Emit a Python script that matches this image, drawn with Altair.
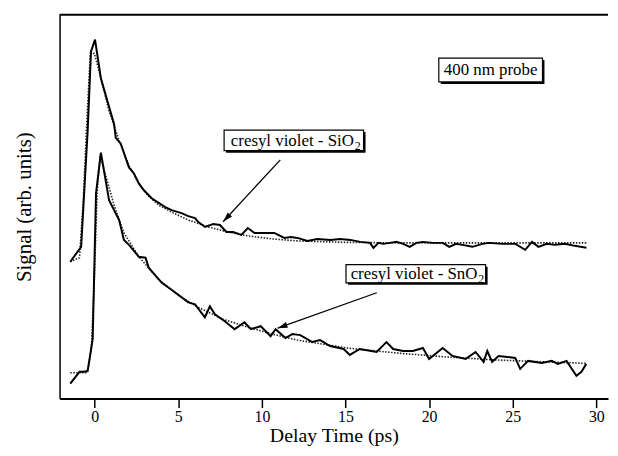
import altair as alt
import pandas as pd

# ---- data (t in ps, signal in arbitrary units) ----
si_t = [-1.46, -0.81, -0.42, -0.22, 0.02, 0.37, 0.76, 1.16, 1.26, 1.56, 2.05, 2.35, 2.64, 2.94,
        3.41, 4.22, 4.60, 5.19, 5.60, 6.00, 6.20, 6.60, 7.09, 7.49, 7.88, 8.28, 8.77, 9.16, 9.56,
        10.15, 10.74, 11.34, 11.73, 12.13, 12.72, 13.31, 14.10, 14.69, 15.29, 15.88, 16.47, 16.67,
        16.97, 17.26, 17.66, 18.05, 18.45, 18.84, 19.24, 19.63, 20.22, 20.82, 21.21, 21.61, 22.00,
        22.59, 23.19, 23.58, 24.37, 25.16, 25.75, 26.15, 26.54, 27.04, 27.53, 28.12, 28.71, 29.41]
si_s = [1.38, 1.53, 2.70, 3.50, 3.62, 3.23, 3.00, 2.77, 2.63, 2.57, 2.33, 2.27, 2.17, 2.10,
        2.02, 1.93, 1.90, 1.87, 1.84, 1.82, 1.78, 1.73, 1.76, 1.75, 1.68, 1.68, 1.65, 1.72, 1.67,
        1.67, 1.67, 1.62, 1.63, 1.62, 1.59, 1.61, 1.60, 1.61, 1.60, 1.58, 1.57, 1.52,
        1.57, 1.56, 1.57, 1.58, 1.56, 1.53, 1.57, 1.58, 1.57, 1.57, 1.53, 1.56, 1.55,
        1.53, 1.56, 1.57, 1.56, 1.56, 1.50, 1.58, 1.53, 1.56, 1.55, 1.56, 1.54, 1.52]

si_fit_t = [-1.46, -0.91, -0.68, -0.44, -0.26, -0.02, 0.27, 0.86, 1.46, 2.05, 2.64, 3.23, 3.83,
            4.72, 5.60, 6.79, 7.97, 9.16, 10.64, 12.11, 15.08, 18.04, 23.97, 29.42]
si_fit_s = [1.38, 1.42, 2.00, 2.90, 3.48, 3.48, 3.30, 2.90, 2.60, 2.35, 2.17, 2.04, 1.95,
            1.87, 1.80, 1.73, 1.68, 1.64, 1.61, 1.59, 1.575, 1.57, 1.57, 1.57]

sn_t = [-1.46, -0.91, -0.62, -0.42, -0.12, 0.08, 0.37, 0.86, 1.46, 1.75, 2.05, 2.64, 3.04, 3.23,
        4.00, 4.82, 5.60, 6.00, 6.59, 6.89, 7.19, 7.78, 8.37, 8.96, 9.34, 9.93, 10.52, 10.82,
        11.41, 11.82, 12.30, 13.01, 13.48, 14.08, 14.89, 15.26, 15.85, 16.86, 17.45, 17.85,
        18.44, 19.03, 19.63, 20.00, 20.81, 21.40, 22.19, 22.78, 23.26, 23.48, 23.77, 24.15,
        25.15, 25.45, 25.92, 26.74, 27.33, 27.70, 28.22, 28.81, 29.11, 29.40]
sn_s = [0.15, 0.27, 0.27, 0.28, 0.60, 2.07, 2.48, 2.00, 1.80, 1.60, 1.55, 1.43, 1.42, 1.32,
        1.17, 1.07, 0.97, 0.95, 0.82, 0.93, 0.85, 0.78, 0.70, 0.77, 0.70, 0.73, 0.63, 0.70,
        0.61, 0.65, 0.64, 0.57, 0.59, 0.53, 0.50, 0.44, 0.50, 0.47, 0.57, 0.50,
        0.48, 0.48, 0.51, 0.40, 0.51, 0.43, 0.40, 0.47, 0.37, 0.48, 0.37, 0.43,
        0.41, 0.30, 0.38, 0.36, 0.38, 0.35, 0.38, 0.23, 0.27, 0.35]

sn_fit_t = [-1.46, -0.44, -0.20, -0.02, 0.15, 0.33, 0.57, 1.16, 1.75, 2.64, 3.83, 5.01, 6.20,
            7.68, 9.16, 10.64, 12.11, 15.08, 18.04, 21.00, 23.97, 26.93, 29.42]
sn_fit_s = [0.26, 0.26, 0.50, 1.20, 2.10, 2.45, 2.30, 1.95, 1.67, 1.43, 1.20, 1.04, 0.92,
            0.80, 0.72, 0.65, 0.59, 0.51, 0.46, 0.42, 0.39, 0.37, 0.355]

x_ticks = [0, 5, 10, 15, 20, 25, 30]
x_domain = [-2.1, 30.7]
y_domain = [0, 3.87]

# annotation boxes: t1, t2, s1, s2
box_t1 = [20.58, 7.74, 15.03]
box_t2 = [26.78, 16.08, 23.38]
box_s1 = [3.433, 2.707, 1.35]
box_s2 = [3.193, 2.50, 1.167]

label_text = ["400 nm probe", "cresyl violet - SiO", "cresyl violet - SnO"]
label_t = [23.68, 15.50, 22.89]
label_s = [3.31, 2.60, 1.26]
label_align = ["center", "right", "right"]
sub_t = [15.55, 22.94]
sub_s = [2.55, 1.21]

arrow_t1 = [11.10, 16.87]
arrow_s1 = [2.407, 1.067]
arrow_t2 = [7.68, 10.94]
arrow_s2 = [1.783, 0.71]
arrow_angle = [222.8, 250.4]

FONT = "Liberation Serif"


def df(t, s):
    return pd.DataFrame({"t": t, "s": s, "i": list(range(len(t)))})


xs = alt.Scale(domain=x_domain, nice=False, zero=False)
ys = alt.Scale(domain=y_domain, nice=False, zero=False)

AX = alt.Axis(
    values=x_ticks, tickSize=9, tickWidth=1.5, tickColor="black", domainColor="black",
    domainWidth=2, labelFont=FONT, labelFontSize=16, labelColor="black", labelPadding=1,
    title="Delay Time (ps)", titleFont=FONT, titleFontSize=20, titleFontWeight="normal",
    titleColor="black", titlePadding=1, grid=False)
AY = alt.Axis(
    ticks=False, labels=False, grid=False, domainColor="black", domainWidth=1.5,
    title="Signal (arb. units)", titleFont=FONT, titleFontSize=21, titleFontWeight="normal",
    titleColor="black", titlePadding=25)


def X(f):
    return alt.X(f, scale=xs, axis=AX, title="Delay Time (ps)")


def Y(f):
    return alt.Y(f, scale=ys, axis=AY, title="Signal (arb. units)")


fit_si = alt.Chart(df(si_fit_t, si_fit_s)).mark_line(
    color="#222", strokeWidth=1.6, strokeDash=[1.5, 1.5]).encode(x=X("t:Q"), y=Y("s:Q"), order="i:Q")
fit_sn = alt.Chart(df(sn_fit_t, sn_fit_s)).mark_line(
    color="#222", strokeWidth=1.6, strokeDash=[1.5, 1.5]).encode(x=X("t:Q"), y=Y("s:Q"), order="i:Q")
dat_si = alt.Chart(df(si_t, si_s)).mark_line(
    color="black", strokeWidth=2).encode(x=X("t:Q"), y=Y("s:Q"), order="i:Q")
dat_sn = alt.Chart(df(sn_t, sn_s)).mark_line(
    color="black", strokeWidth=2).encode(x=X("t:Q"), y=Y("s:Q"), order="i:Q")

top_border = alt.Chart(pd.DataFrame({"t": [x_domain[0]], "t2": [x_domain[1]], "s": [y_domain[1]]})).mark_rule(
    color="black", strokeWidth=2).encode(x=X("t:Q"), x2="t2:Q", y=Y("s:Q"))

boxes = pd.DataFrame({"t": box_t1, "t2": box_t2, "s": box_s1, "s2": box_s2})
box_enc = dict(x=X("t:Q"), x2="t2:Q", y=Y("s:Q"), y2="s2:Q")
shadow = alt.Chart(boxes).mark_rect(color="black", xOffset=2, x2Offset=2, yOffset=2,
                                    y2Offset=2).encode(**box_enc)
box = alt.Chart(boxes).mark_rect(fill="white", stroke="black", strokeWidth=1.2).encode(**box_enc)

labels = pd.DataFrame({"t": label_t, "s": label_s, "txt": label_text, "al": label_align})
lab_layers = []
for al in ["center", "right"]:
    lab_layers.append(alt.Chart(labels[labels.al == al]).mark_text(
        font=FONT, fontSize=17, color="black", align=al, baseline="middle").encode(
        x=X("t:Q"), y=Y("s:Q"), text="txt:N"))
subs = alt.Chart(pd.DataFrame({"t": sub_t, "s": sub_s, "txt": ["2", "2"]})).mark_text(
    font=FONT, fontSize=12, color="black", align="left", baseline="middle").encode(
    x=X("t:Q"), y=Y("s:Q"), text="txt:N")

arrows = pd.DataFrame({"t": arrow_t1, "s": arrow_s1, "t2": arrow_t2, "s2": arrow_s2,
                       "a": arrow_angle})
arrow_lines = alt.Chart(arrows).mark_rule(color="black", strokeWidth=1.3).encode(
    x=X("t:Q"), y=Y("s:Q"), x2="t2:Q", y2="s2:Q")
heads = pd.DataFrame({"t": arrow_t2, "s": arrow_s2, "a": arrow_angle})
arrow_heads = alt.Chart(heads).mark_point(
    shape="M0,0L-0.6,2L0.6,2Z", filled=True, size=100, color="black", opacity=1,
    strokeWidth=0).encode(x=X("t:Q"), y=Y("s:Q"), angle=alt.Angle("a:Q", scale=None))

chart = alt.layer(
    fit_si, fit_sn, dat_si, dat_sn, top_border, arrow_lines, arrow_heads,
    shadow, box, *lab_layers, subs
).properties(
    width=553, height=387,
    autosize=alt.AutoSizeParams(type="none"),
    padding={"left": 52, "top": 5, "right": 2, "bottom": 48},
    background="white",
).configure_view(stroke=None)

chart.save("out.html", embed_options={"renderer": "svg", "actions": False})
